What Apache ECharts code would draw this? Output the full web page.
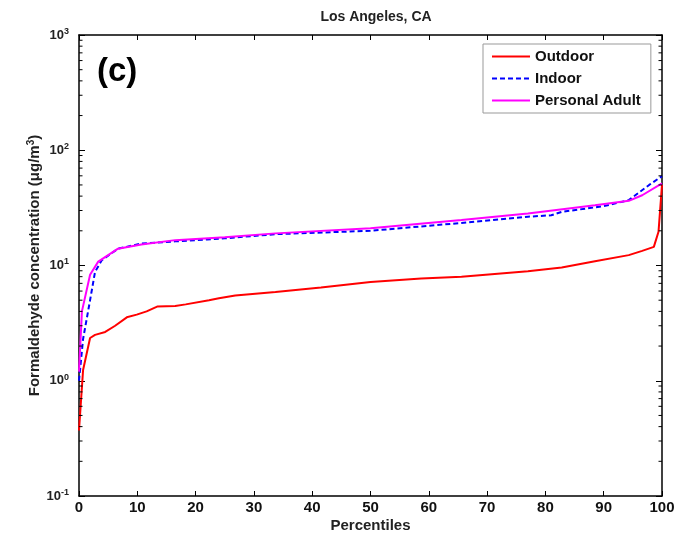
<!DOCTYPE html>
<html>
<head>
<meta charset="utf-8">
<script src="https://cdn.jsdelivr.net/npm/echarts@6/dist/echarts.min.js"></script>
<style>
html,body{margin:0;padding:0;background:#fff;}
#chart{width:682px;height:533px;}
</style>
</head>
<body>
<div id="chart"></div>
<script>
var titleText = 'Los Angeles, CA';
var panelLabel = '(c)';
var seriesNames = ['Outdoor', 'Indoor', 'Personal Adult'];
var xTicks = [0, 10, 20, 30, 40, 50, 60, 70, 80, 90, 100];

var outdoorPct = [0, 0.7, 1.9, 2.75, 4.5, 6.2, 8.2, 9.9, 11.6, 13.4, 16.5, 18.3, 22.3, 24, 26.8, 33.7, 41.5, 50, 58.7, 65.6, 77, 82.8, 88.5, 94.3, 96.6, 98.6, 99.4, 100];
var outdoorVal = [0.37, 1.24, 2.35, 2.5, 2.65, 3.0, 3.55, 3.75, 4.0, 4.4, 4.45, 4.6, 5.0, 5.2, 5.5, 5.9, 6.45, 7.2, 7.7, 8.0, 8.9, 9.6, 10.9, 12.3, 13.4, 14.5, 19.6, 50];

var indoorPct = [0, 0.7, 1.9, 2.75, 3.9, 6.7, 10.7, 16.5, 22, 25, 33.7, 50, 65.6, 77, 81, 82.8, 90, 94.3, 97.8, 100];
var indoorVal = [1.0, 2.3, 5.0, 8.8, 11.1, 14.0, 15.5, 16.2, 16.8, 17.2, 18.7, 20.0, 23.4, 26.5, 27.3, 29.2, 32.7, 36.9, 50, 59.6];

var personalPct = [0, 0.5, 1.9, 3.3, 5, 6.7, 10.7, 16.5, 25, 33.7, 50, 65.6, 77, 88.5, 94.3, 96.6, 100];
var personalVal = [1.2, 4.0, 8.3, 10.8, 12.3, 14.0, 15.2, 16.6, 17.6, 19.0, 21.0, 24.8, 28.3, 33.3, 36.4, 40.7, 51.5];

var minorTickVals = [0.2,0.3,0.4,0.5,0.6,0.7,0.8,0.9,2,3,4,5,6,7,8,9,20,30,40,50,60,70,80,90,200,300,400,500,600,700,800,900];

function pairs(xs, ys) { return xs.map(function (x, i) { return [x, ys[i]]; }); }

var chart = echarts.init(document.getElementById('chart'));
var font = 'Liberation Sans, Arial, sans-serif';
function supRich(size) {
  return { sup: { fontSize: size, fontWeight: 'bold', fontFamily: font, color: '#222', padding: [0, 0, 7, 0] } };
}

var option = {
  animation: false,
  backgroundColor: '#fff',
  title: {
    text: titleText, left: 371, top: 5, textAlign: 'center',
    textStyle: { fontFamily: font, fontSize: 14, fontWeight: 'bold', color: '#222' }
  },
  grid: { left: 79, right: 20, top: 35, bottom: 37, containLabel: false, outerBoundsMode: 'none' },
  legend: {
    data: seriesNames.map(function (n) { return { name: n }; }),
    orient: 'vertical', left: 483, top: 44,
    itemWidth: 38, itemHeight: 14, itemGap: 7,
    padding: [5, 10, 5, 8],
    borderColor: '#999', borderWidth: 1,
    backgroundColor: '#fff',
    itemStyle: { opacity: 0 },
    textStyle: { fontFamily: font, fontSize: 15, fontWeight: 'bold', color: '#111' }
  },
  graphic: [{
    type: 'text', left: 97, top: 55,
    style: { text: panelLabel, fontFamily: font, fontSize: 33, fontWeight: 'bold', fill: '#000' }
  }],
  xAxis: [{
    type: 'value', min: 0, max: 100, interval: 10, position: 'bottom',
    name: 'Percentiles', nameLocation: 'middle', nameGap: 22, nameMoveOverlap: false,
    nameTextStyle: { fontFamily: font, fontSize: 15, fontWeight: 'bold', color: '#222' },
    axisLine: { show: true, onZero: false, lineStyle: { color: '#000', width: 1.5 } },
    axisTick: { show: true, inside: true, length: 5, lineStyle: { color: '#000' } },
    axisLabel: { fontFamily: font, fontSize: 15, fontWeight: 'bold', color: '#111', margin: 4 },
    splitLine: { show: false }
  }, {
    type: 'value', min: 0, max: 100, interval: 10, position: 'top',
    axisLine: { show: true, onZero: false, lineStyle: { color: '#000', width: 1.5 } },
    axisTick: { show: true, inside: true, length: 5, lineStyle: { color: '#000' } },
    axisLabel: { show: false }, splitLine: { show: false }
  }],
  yAxis: [{
    type: 'log', logBase: 10, min: 0.1, max: 1000, position: 'left',
    name: 'Formaldehyde concentration (μg/m{sup|3})', nameLocation: 'middle', nameGap: 36, nameMoveOverlap: false,
    nameTextStyle: { fontFamily: font, fontSize: 15, fontWeight: 'bold', color: '#222', rich: supRich(10) },
    axisLine: { show: true, onZero: false, lineStyle: { color: '#000', width: 1.5 } },
    axisTick: { show: true, inside: true, length: 6, lineStyle: { color: '#000' } },
    axisLabel: {
      fontFamily: font, fontSize: 13, fontWeight: 'bold', color: '#222', margin: 10,
      formatter: function (v) { return '10{sup|' + Math.round(Math.log10(v)) + '}'; },
      rich: supRich(9)
    },
    splitLine: { show: false }
  }, {
    type: 'log', logBase: 10, min: 0.1, max: 1000, position: 'right',
    axisLine: { show: true, onZero: false, lineStyle: { color: '#000', width: 1.5 } },
    axisTick: { show: true, inside: true, length: 6, lineStyle: { color: '#000' } },
    axisLabel: { show: false }, splitLine: { show: false }
  }],
  series: [{
    name: 'minor', type: 'custom', silent: true, clip: false, z: 5,
    data: minorTickVals.map(function (v) { return [0, v]; }),
    renderItem: function (params, api) {
      var v = api.value(1);
      var l = api.coord([0, v]);
      var r = api.coord([100, v]);
      return {
        type: 'group', children: [
          { type: 'line', shape: { x1: l[0], y1: l[1], x2: l[0] + 3.5, y2: l[1] }, style: { stroke: '#000', lineWidth: 1 } },
          { type: 'line', shape: { x1: r[0], y1: r[1], x2: r[0] - 3.5, y2: r[1] }, style: { stroke: '#000', lineWidth: 1 } }
        ]
      };
    }
  }, {
    name: seriesNames[0], type: 'line', showSymbol: false, symbol: 'none',
    data: pairs(outdoorPct, outdoorVal),
    lineStyle: { color: '#ff0000', width: 2 }, itemStyle: { color: '#ff0000' }
  }, {
    name: seriesNames[1], type: 'line', showSymbol: false, symbol: 'none',
    data: pairs(indoorPct, indoorVal),
    lineStyle: { color: '#0000ff', width: 2, type: [5, 3] }, itemStyle: { color: '#0000ff' }
  }, {
    name: seriesNames[2], type: 'line', showSymbol: false, symbol: 'none',
    data: pairs(personalPct, personalVal),
    lineStyle: { color: '#ff00ff', width: 2 }, itemStyle: { color: '#ff00ff' }
  }]
};
chart.setOption(option);
</script>
</body>
</html>
